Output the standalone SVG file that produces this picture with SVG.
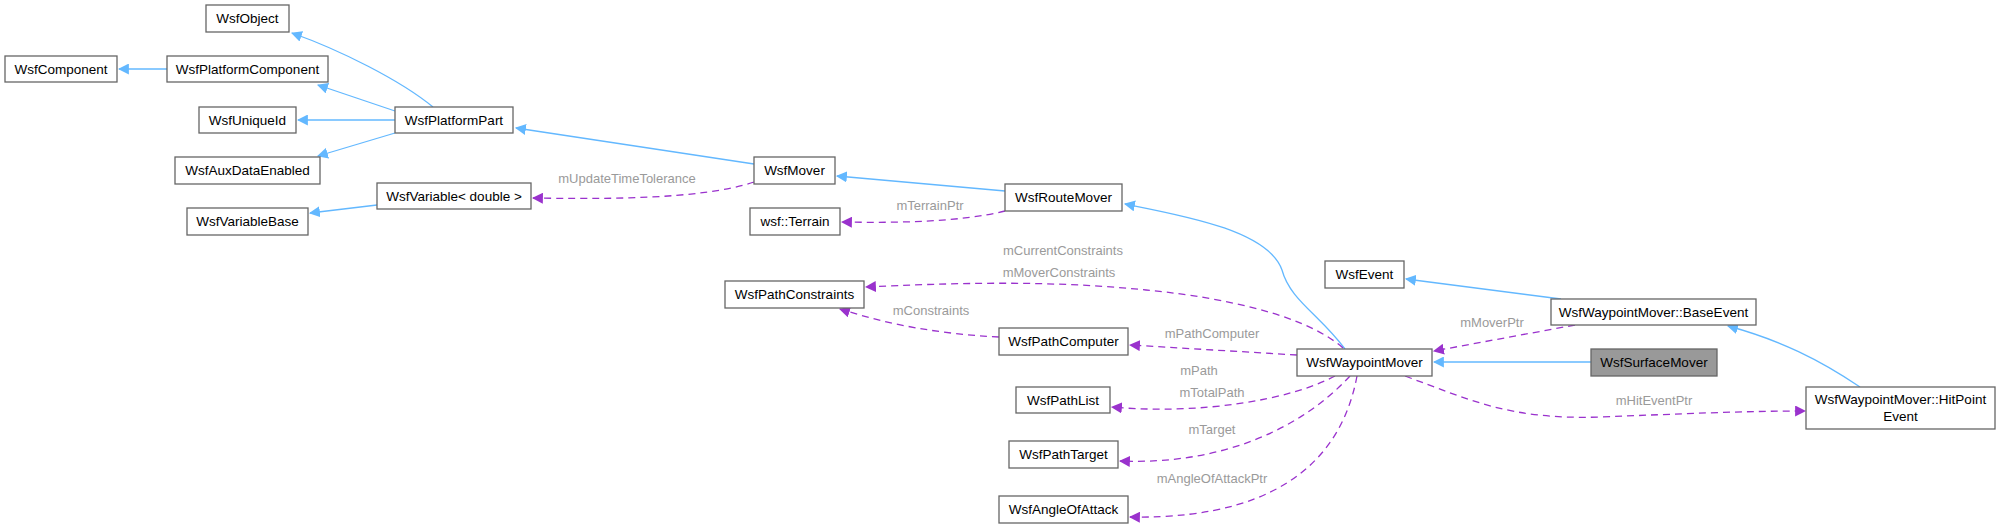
<svg xmlns="http://www.w3.org/2000/svg" width="2005" height="528" viewBox="0 0 2005 528">
<style>
.n rect{fill:#fff;stroke:#666;stroke-width:1.3}
.n text{font-family:"Liberation Sans",Arial,sans-serif;font-size:13.5px;fill:#000;text-anchor:middle}
.inh{fill:none;stroke:#63b8ff;stroke-width:1.3}
.use{fill:none;stroke:#9a32cd;stroke-width:1.3;stroke-dasharray:7,5}
.lbl{font-family:"Liberation Sans",Arial,sans-serif;font-size:13px;fill:#9a9a9a;text-anchor:middle}
</style>
<defs>
<marker id="ab" viewBox="0 0 10 10" refX="9" refY="5" markerWidth="11" markerHeight="11" markerUnits="userSpaceOnUse" orient="auto"><path d="M0,0L10,5L0,10z" fill="#63b8ff"/></marker>
<marker id="ap" viewBox="0 0 10 10" refX="9" refY="5" markerWidth="11" markerHeight="11" markerUnits="userSpaceOnUse" orient="auto"><path d="M0,0L10,5L0,10z" fill="#9a32cd"/></marker>
</defs>
<rect width="2005" height="528" fill="#fff"/>
<g id="edges">
<path class="inh" marker-end="url(#ab)" d="M433,107C400,80 340,50 292,33"/>
<path class="inh" marker-end="url(#ab)" d="M395,111L318,85"/>
<path class="inh" marker-end="url(#ab)" d="M395,120L298,120"/>
<path class="inh" marker-end="url(#ab)" d="M395,133L318,156"/>
<path class="inh" marker-end="url(#ab)" d="M167,69L119,69"/>
<path class="inh" marker-end="url(#ab)" d="M754,164L516,128"/>
<path class="inh" marker-end="url(#ab)" d="M1005,191L837,176"/>
<path class="inh" marker-end="url(#ab)" d="M1345,349C1320,315 1290,300 1282,270C1268,230 1180,215 1125,204"/>
<path class="inh" marker-end="url(#ab)" d="M377,205L310,213"/>
<path class="use" marker-end="url(#ap)" d="M754,182C700,200 600,199 533,198"/>
<text class="lbl" x="627" y="183">mUpdateTimeTolerance</text>
<path class="use" marker-end="url(#ap)" d="M1005,211C960,222 900,223 842,222"/>
<text class="lbl" x="930" y="210">mTerrainPtr</text>
<path class="use" marker-end="url(#ap)" d="M1343,348C1300,310 1200,295 1146,290C1050,280 950,283 866,287"/>
<text class="lbl" x="1063" y="255">mCurrentConstraints</text>
<text class="lbl" x="1059" y="277">mMoverConstraints</text>
<path class="use" marker-end="url(#ap)" d="M999,337C940,334 890,325 840,309"/>
<text class="lbl" x="931" y="315">mConstraints</text>
<path class="use" marker-end="url(#ap)" d="M1297,355L1130,345"/>
<text class="lbl" x="1212" y="338">mPathComputer</text>
<path class="use" marker-end="url(#ap)" d="M1335,376C1290,400 1200,415 1112,407"/>
<text class="lbl" x="1199" y="375">mPath</text>
<text class="lbl" x="1212" y="397">mTotalPath</text>
<path class="use" marker-end="url(#ap)" d="M1350,376C1300,430 1220,465 1120,461"/>
<text class="lbl" x="1212" y="434">mTarget</text>
<path class="use" marker-end="url(#ap)" d="M1357,376C1345,440 1300,520 1130,517"/>
<text class="lbl" x="1212" y="483">mAngleOfAttackPtr</text>
<path class="inh" marker-end="url(#ab)" d="M1561,299L1406,279"/>
<path class="use" marker-end="url(#ap)" d="M1575,325L1434,351"/>
<text class="lbl" x="1492" y="327">mMoverPtr</text>
<path class="inh" marker-end="url(#ab)" d="M1591,362L1434,362"/>
<path class="inh" marker-end="url(#ab)" d="M1860,387C1820,360 1780,340 1728,326"/>
<path class="use" marker-end="url(#ap)" d="M1405,376C1470,400 1510,420 1600,417C1680,414 1740,411 1805,411"/>
<text class="lbl" x="1654" y="405">mHitEventPtr</text>
</g>
<g id="WsfObject" class="n"><rect x="206" y="5" width="83" height="27"/><text x="247.5" y="23">WsfObject</text></g>
<g id="WsfComponent" class="n"><rect x="5" y="56" width="112" height="26"/><text x="61" y="74">WsfComponent</text></g>
<g id="WsfPlatformComponent" class="n"><rect x="167" y="56" width="161" height="26"/><text x="247.5" y="74">WsfPlatformComponent</text></g>
<g id="WsfUniqueId" class="n"><rect x="199" y="107" width="97" height="26"/><text x="247.5" y="125">WsfUniqueId</text></g>
<g id="WsfPlatformPart" class="n"><rect x="395" y="107" width="118" height="26"/><text x="454" y="125">WsfPlatformPart</text></g>
<g id="WsfAuxDataEnabled" class="n"><rect x="175" y="157" width="145" height="27"/><text x="247.5" y="175">WsfAuxDataEnabled</text></g>
<g id="WsfVariableDouble" class="n"><rect x="377" y="183" width="154" height="26"/><text x="454" y="201">WsfVariable&lt; double &gt;</text></g>
<g id="WsfVariableBase" class="n"><rect x="187" y="208" width="121" height="27"/><text x="247.5" y="226">WsfVariableBase</text></g>
<g id="WsfMover" class="n"><rect x="754" y="157" width="81" height="27"/><text x="794.5" y="175">WsfMover</text></g>
<g id="WsfRouteMover" class="n"><rect x="1005" y="184" width="117" height="27"/><text x="1063.5" y="202">WsfRouteMover</text></g>
<g id="wsfTerrain" class="n"><rect x="750" y="208" width="90" height="27"/><text x="795" y="226">wsf::Terrain</text></g>
<g id="WsfPathConstraints" class="n"><rect x="725" y="281" width="139" height="27"/><text x="794.5" y="299">WsfPathConstraints</text></g>
<g id="WsfPathComputer" class="n"><rect x="999" y="328" width="129" height="27"/><text x="1063.5" y="346">WsfPathComputer</text></g>
<g id="WsfPathList" class="n"><rect x="1016" y="387" width="94" height="26"/><text x="1063" y="405">WsfPathList</text></g>
<g id="WsfPathTarget" class="n"><rect x="1009" y="441" width="109" height="27"/><text x="1063.5" y="459">WsfPathTarget</text></g>
<g id="WsfAngleOfAttack" class="n"><rect x="999" y="496" width="129" height="27"/><text x="1063.5" y="514">WsfAngleOfAttack</text></g>
<g id="WsfWaypointMover" class="n"><rect x="1297" y="349" width="135" height="27"/><text x="1364.5" y="367">WsfWaypointMover</text></g>
<g id="WsfEvent" class="n"><rect x="1325" y="261" width="79" height="27"/><text x="1364.5" y="279">WsfEvent</text></g>
<g id="BaseEvent" class="n"><rect x="1551" y="299" width="205" height="26"/><text x="1653.5" y="317">WsfWaypointMover::BaseEvent</text></g>
<g id="WsfSurfaceMover" class="n"><rect x="1591" y="349" width="126" height="27" style="fill:#999"/><text x="1654" y="367">WsfSurfaceMover</text></g>
<g id="HitPointEvent" class="n"><rect x="1806" y="387" width="189" height="42"/><text x="1900.5" y="404">WsfWaypointMover::HitPoint</text><text x="1900.5" y="421">Event</text></g>
</svg>
